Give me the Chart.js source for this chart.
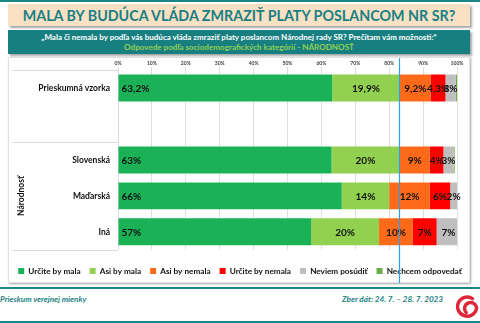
<!DOCTYPE html>
<html lang="sk">
<head>
<meta charset="utf-8">
<title>Mala by budúca vláda zmraziť platy poslancom NR SR?</title>
<script src="https://cdn.jsdelivr.net/npm/chart.js@4.4.0/dist/chart.umd.min.js"></script>
<style>
  html, body { margin: 0; padding: 0; background: #fff; }
  body { width: 480px; height: 323px; position: relative; overflow: hidden; font-family: Lato, "Open Sans", sans-serif; }
  .rule { position: absolute; left: 0; width: 480px; height: 2px; background: #1c8587; }
  .title {
    position: absolute; left: 8px; top: 4px; width: 462px; height: 22px;
    background: #fbe1c4; box-shadow: 2px 2px 2px rgba(0,0,0,.35);
    color: #177f83; font-weight: 700; font-size: 14.3px; line-height: 23px; text-align: center;
  }
  .question {
    position: absolute; left: 8px; top: 30px; width: 462px; height: 24px;
    background: #187f81; box-shadow: 2px 2px 2px rgba(0,0,0,.35);
    font-weight: 700; font-size: 8px; text-align: center; line-height: 10px;
  }
  .question .q { color: #fff; padding-top: 2px; }
  .question .sub { color: #92d050; font-size: 8.1px; }
  .panel {
    position: absolute; left: 8px; top: 57px; width: 462px; height: 226px;
    background: #fff; box-shadow: 1px 1px 2px rgba(0,0,0,.35); border: 1px solid #e2e2e2; box-sizing: border-box;
  }
  #chartWrap { position: absolute; left: 0; top: 57px; width: 480px; height: 228px; }
  .foot { position: absolute; top: 294px; color: #1d7f84; font-style: italic; font-weight: 700; font-size: 8.1px; }
  .logo { position: absolute; left: 455px; top: 295px; }
</style>
</head>
<body>
<div class="rule" style="top:0"></div>
<div class="title">MALA BY BUDÚCA VLÁDA ZMRAZIŤ PLATY POSLANCOM NR SR?</div>
<div class="question">
  <div class="q">„Mala či nemala by podľa vás budúca vláda zmraziť platy poslancom Národnej rady SR? Prečítam vám možnosti:“</div>
  <div class="sub">Odpovede podľa sociodemografických kategórií - NÁRODNOSŤ</div>
</div>
<div class="panel"></div>
<div id="chartWrap"><canvas id="chart" width="480" height="228"></canvas></div>
<div class="rule" style="top:287px"></div>
<div class="foot" style="left:0">Prieskum verejnej mienky</div>
<div class="foot" style="right:37px">Zber dát: 24. 7. – 28. 7. 2023</div>
<svg class="logo" width="24" height="25" viewBox="0 0 24 25">
  <path d="M17.5 3.6 A9.6 9.6 0 1 0 21.6 13.5 A6 6 0 1 0 11.2 17.6" fill="none" stroke="#e0273a" stroke-width="3.4" stroke-linecap="round"/>
</svg>
<div class="rule" style="top:321px"></div>

<script>
// kategórie (prázdna položka oddeľuje celok od skupiny Národnosť)
const categories = ['Prieskumná vzorka', '', 'Slovenská', 'Maďarská', 'Iná'];
const groupLabel = 'Národnosť';

const seriesNames = ['Určite by mala', 'Asi by mala', 'Asi by nemala', 'Určite by nemala', 'Neviem posúdiť', 'Nechcem odpovedať'];
const seriesColors = ['#1bb157', '#92d050', '#ff6a1a', '#ff0000', '#bfbfbf', '#6aac47'];

// hodnoty v %
const urciteMala   = [63.2, null, 63, 66, 57];
const asiMala      = [19.9, null, 20, 14, 20];
const asiNemala    = [9.2,  null, 9,  12, 10];
const urciteNemala = [4.3,  null, 4,  6,  7];
const neviem       = [3,    null, 3,  2,  7];
const nechcem      = [0.4,  null, 0.3, 0, 0];

const xTicks = [0, 10, 20, 30, 40, 50, 60, 70, 80, 90, 100];
const markerValue = 83; // modrá zvislá čiara

const FONT = 'Lato, "Open Sans", sans-serif';

function fmt(v){ return String(v).replace('.', ',') + '%'; }

// popisky hodnôt v stĺpcoch
const barLabels = {
  id: 'barLabels',
  afterDatasetsDraw(chart) {
    const ctx = chart.ctx;
    ctx.save();
    ctx.font = 'bold 10px ' + FONT;
    ctx.fillStyle = '#111';
    ctx.textBaseline = 'middle';
    chart.data.datasets.forEach((ds, i) => {
      if (ds.noLabels) return;
      chart.getDatasetMeta(i).data.forEach((bar, j) => {
        const v = ds.data[j];
        if (!v) return;
        if (i === 0) {
          ctx.textAlign = 'left';
          ctx.fillText(fmt(v), bar.base + 3, bar.y + 0.5);
        } else {
          ctx.textAlign = 'center';
          ctx.fillText(fmt(v), (bar.base + bar.x) / 2, bar.y + 0.5);
        }
      });
    });
    ctx.restore();
  }
};

// tabuľka popisov vľavo + skupinový popis + modrá čiara
const frame = {
  id: 'frame',
  afterDraw(chart) {
    const ctx = chart.ctx, a = chart.chartArea;
    const y = chart.scales.y, x = chart.scales.x;
    const split = y.getPixelForValue(1.5);
    ctx.save();
    ctx.strokeStyle = '#dcdcdc';
    ctx.lineWidth = 1;
    [a.top, split, a.bottom].forEach(py => {
      ctx.beginPath();
      ctx.moveTo(12, Math.round(py) + 0.5);
      ctx.lineTo(a.left, Math.round(py) + 0.5);
      ctx.stroke();
    });
    ctx.translate(21, (split + a.bottom) / 2);
    ctx.rotate(-Math.PI / 2);
    ctx.font = 'bold 8.5px ' + FONT;
    ctx.fillStyle = '#111';
    ctx.textAlign = 'center';
    ctx.textBaseline = 'middle';
    ctx.fillText(groupLabel, 0, 0);
    ctx.restore();

    ctx.save();
    const mx = Math.round(x.getPixelForValue(markerValue)) + 0.5;
    ctx.strokeStyle = '#2fa0e8';
    ctx.lineWidth = 1.2;
    ctx.beginPath();
    ctx.moveTo(mx, 1);
    ctx.lineTo(mx, 226);
    ctx.stroke();
    ctx.restore();
  }
};

const seriesData = [urciteMala, asiMala, asiNemala, urciteNemala, neviem, nechcem];

// prázdne osi len rezervujú miesto (vpravo a pod grafom)
const spacer = (pos, size) => ({
  type: 'linear',
  position: pos,
  display: true,
  afterFit: s => { if (s.isHorizontal()) s.height = size; else s.width = size; },
  ticks: { display: false },
  grid: { display: false, drawTicks: false },
  border: { display: false }
});

new Chart(document.getElementById('chart'), {
  type: 'bar',
  data: {
    labels: categories,
    datasets: seriesData.map((d, i) => ({
      label: seriesNames[i],
      data: d,
      backgroundColor: seriesColors[i],
      borderWidth: 0,
      barPercentage: 0.75,
      categoryPercentage: 1,
      noLabels: i === 5
    }))
  },
  options: {
    indexAxis: 'y',
    responsive: false,
    animation: false,
    layout: { padding: 0 },
    scales: {
      x: {
        position: 'top',
        stacked: true,
        min: 0, max: 100,
        afterBuildTicks: s => { s.ticks = xTicks.map(v => ({ value: v })); },
        afterFit: s => { s.height = 12; },
        ticks: {
          callback: v => v + '%',
          font: { family: FONT, size: 5, weight: 'bold' },
          color: '#404040',
          padding: 1,
          maxRotation: 0
        },
        grid: { color: '#dedede', tickLength: 3 },
        border: { display: false }
      },
      y: {
        stacked: true,
        afterFit: s => { s.width = 118; },
        ticks: {
          font: { family: FONT, size: 8.5, weight: 'bold' },
          color: '#111',
          padding: 8
        },
        grid: { display: false, drawTicks: false },
        border: { color: '#dcdcdc' }
      },
      gapRight: spacer('right', 23),
      gapBottom: spacer('bottom', 8)
    },
    plugins: {
      legend: {
        position: 'bottom',
        labels: {
          boxWidth: 6,
          boxHeight: 6,
          padding: 9,
          color: '#111',
          font: { family: FONT, size: 8.2, weight: 'bold' }
        }
      },
      tooltip: { enabled: false }
    }
  },
  plugins: [barLabels, frame]
});
</script>
</body>
</html>
